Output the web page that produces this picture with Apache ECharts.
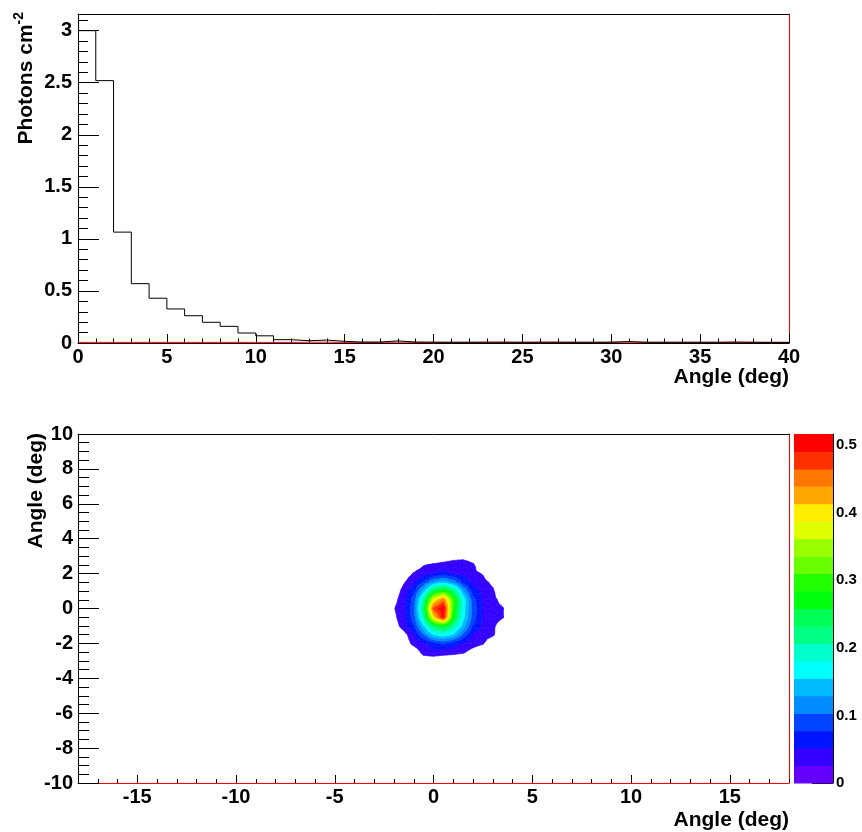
<!DOCTYPE html>
<html><head><meta charset="utf-8">
<script src="https://cdn.jsdelivr.net/npm/echarts@6/dist/echarts.min.js"></script>
<style>html,body{margin:0;padding:0;background:#fff}#c{width:862px;height:832px}</style>
</head><body><div id="c"></div>
<script>
// ---------- Top panel: 1D histogram (bin width 1 deg, 0..40) ----------
const histValues = [3.00, 2.52, 1.065, 0.57, 0.43, 0.327, 0.262, 0.199, 0.16, 0.096,
  0.069, 0.032, 0.022, 0.028, 0.016, 0.009, 0.009, 0.02, 0.009, 0.008,
  0.007, 0.007, 0.008, 0.007, 0.007, 0.008, 0.007, 0.007, 0.007, 0.008,
  0.014, 0.007, 0.007, 0.007, 0.007, 0.007, 0.008, 0.007, 0.006, 0.006];
const redValues = [0.006, 0.006, 0.006, 0.006, 0.006, 0.006, 0.006, 0.006, 0.006, 0.006,
  0.006, 0.006, 0.008, 0.008, 0.006, 0.006, 0.006, 0.008, 0.006, 0.006,
  0.006, 0.006, 0.006, 0.008, 0.006, 0.006, 0.008, 0.006, 0.006, 0.006,
  0.008, 0.006, 0.006, 0.006, 0.006, 0.006, 0.008, 0.006, 0.006, 0.006];
const topXMin = 0, topXMax = 40, topYMax = 3.16;
const topXTicks = [0, 5, 10, 15, 20, 25, 30, 35, 40];
const topYTicks = [0, 0.5, 1, 1.5, 2, 2.5, 3];

// ---------- Bottom panel: 2D map sampled every 0.5 deg, contour levels ----------
const mapXNodes = [-2.5, -2, -1.5, -1, -0.5, 0, 0.5, 1, 1.5, 2, 2.5, 3, 3.5, 4];
const mapYNodes = [-3.5, -3, -2.5, -2, -1.5, -1, -0.5, 0, 0.5, 1, 1.5, 2, 2.5, 3, 3.5];
const rowYm35 = [0, 0,    0,    0,    0,    0,    0,    0,    0,    0,    0,    0,    0,    0];
const rowYm30 = [0, 0,    0,    0,    .012, .010, .006, .005, .004, 0,    0,    0,    0,    0];
const rowYm25 = [0, 0,    0,    .009, .034, .040, .037, .034, .029, .016, .005, 0,    0,    0];
const rowYm20 = [0, 0,    .010, .033, .046, .070, .082, .065, .046, .036, .028, .005, 0,    0];
const rowYm15 = [0, 0,    .015, .045, .105, .155, .172, .151, .097, .049, .036, .030, .005, 0];
const rowYm10 = [0, .012, .038, .076, .152, .235, .267, .210, .142, .076, .044, .031, .011, 0];
const rowYm05 = [0, .019, .044, .091, .200, .400, .500, .275, .165, .091, .047, .036, .028, 0];
const rowY00  = [0, .024, .045, .094, .230, .470, .516, .296, .170, .093, .048, .036, .028, 0];
const rowYp05 = [0, .016, .043, .089, .202, .384, .450, .306, .175, .087, .047, .034, .016, 0];
const rowYp10 = [0, .008, .035, .071, .143, .247, .289, .230, .132, .066, .041, .030, 0,    0];
const rowYp15 = [0, .005, .023, .044, .082, .128, .145, .120, .072, .045, .034, .020, 0,    0];
const rowYp20 = [0, 0,    .012, .028, .040, .050, .062, .049, .042, .033, .024, 0,    0,    0];
const rowYp25 = [0, 0,    0,    .009, .024, .030, .035, .040, .040, .030, 0,    0,    0,    0];
const rowYp30 = [0, 0,    0,    0,    0,    0,    .005, .012, .016, .008, 0,    0,    0,    0];
const rowYp35 = [0, 0,    0,    0,    0,    0,    0,    0,    0,    0,    0,    0,    0,    0];
const mapRows = [rowYm35, rowYm30, rowYm25, rowYm20, rowYm15, rowYm10, rowYm05, rowY00,
  rowYp05, rowYp10, rowYp15, rowYp20, rowYp25, rowYp30, rowYp35];
const mapXMin = -18, mapXMax = 18, mapYMin = -10, mapYMax = 10;
const mapXTicks = [-15, -10, -5, 0, 5, 10, 15];
const mapYTicks = [-10, -8, -6, -4, -2, 0, 2, 4, 6, 8, 10];
const zMax = 0.516, nLevels = 20;
const levelColors = ['#6300ff','#3300ff','#0014ff','#0044ff','#008bff','#00bbff','#00fffc','#00ffcc','#00ff85','#00ff55',
  '#00ff0e','#22ff00','#69ff00','#99ff00','#e0ff00','#ffee00','#ffa700','#ff7700','#ff3000','#ff0000'];
const zTicks = [0, 0.1, 0.2, 0.3, 0.4, 0.5];

// ---------- helpers ----------
const FONT = 'Liberation Sans, Arial, Helvetica, sans-serif';
function range(a, b, s) { const r = []; for (let v = a; v <= b + 1e-9; v += s) r.push(Math.round(v * 1000) / 1000); return r; }
const levelStep = zMax / nLevels;

function clipPoly(pts, lev, keepAbove) {
  const out = [];
  for (let i = 0; i < pts.length; i++) {
    const a = pts[i], b = pts[(i + 1) % pts.length];
    const ina = keepAbove ? a[2] >= lev : a[2] <= lev;
    const inb = keepAbove ? b[2] >= lev : b[2] <= lev;
    if (ina) out.push(a);
    if (ina !== inb) {
      const t = (lev - a[2]) / (b[2] - a[2]);
      out.push([a[0] + t * (b[0] - a[0]), a[1] + t * (b[1] - a[1]), lev]);
    }
  }
  return out;
}

function renderCell(params, api) {
  const x0 = api.value(0), y0 = api.value(1), x1 = api.value(2), y1 = api.value(3);
  const v = [api.value(4), api.value(5), api.value(6), api.value(7)];
  const c = [api.coord([x0, y0]), api.coord([x1, y0]), api.coord([x1, y1]), api.coord([x0, y1])];
  const P = c.map((p, i) => [p[0], p[1], v[i]]);
  const ctr = [(P[0][0] + P[2][0]) / 2, (P[0][1] + P[2][1]) / 2, (v[0] + v[1] + v[2] + v[3]) / 4];
  const children = [];
  for (let t = 0; t < 4; t++) {
    const tri = [P[t], P[(t + 1) % 4], ctr];
    const vs = tri.map(p => p[2]);
    const vmin = Math.min.apply(null, vs), vmax = Math.max.apply(null, vs);
    const kMin = Math.max(1, Math.floor(vmin / levelStep));
    const kMax = Math.min(nLevels - 1, Math.floor(vmax / levelStep));
    for (let k = kMin; k <= kMax; k++) {
      let poly = clipPoly(tri, k * levelStep, true);
      if (k < nLevels - 1 && poly.length) poly = clipPoly(poly, (k + 1) * levelStep, false);
      if (poly.length >= 3) {
        children.push({ type: 'polygon', silent: true,
          shape: { points: poly.map(p => [p[0], p[1]]) },
          style: { fill: levelColors[k], stroke: levelColors[k], lineWidth: 0.6 } });
      }
    }
  }
  return { type: 'group', children: children };
}

// build data
const histData = histValues.map((v, i) => [topXMin + i, v]);
histData.push([topXMax, histValues[histValues.length - 1]]);
const redData = redValues.map((v, i) => [topXMin + i, v]);
redData.push([topXMax, redValues[redValues.length - 1]]);

const cellData = [];
for (let j = 0; j < mapYNodes.length - 1; j++) {
  for (let i = 0; i < mapXNodes.length - 1; i++) {
    const a = mapRows[j][i], b = mapRows[j][i + 1], cc = mapRows[j + 1][i + 1], d = mapRows[j + 1][i];
    if (Math.max(a, b, cc, d) < levelStep) continue;
    cellData.push([mapXNodes[i], mapYNodes[j], mapXNodes[i + 1], mapYNodes[j + 1], a, b, cc, d]);
  }
}
const barData = levelColors.map((col, k) => [k * levelStep, (k + 1) * levelStep, k]);

const lblStyle = (size, margin) => ({ fontFamily: FONT, fontWeight: 'bold', fontSize: size, color: '#000', margin: margin });
function tickAxis(o) {
  const a = Object.assign({ type: 'value', splitLine: { show: false } }, o);
  a.axisLine = Object.assign({ onZero: false }, a.axisLine || {});
  return a;
}
const noLbl = { show: false };

const chart = echarts.init(document.getElementById('c'), null, { renderer: 'canvas' });
chart.setOption({
  animation: false,
  backgroundColor: '#fff',
  grid: [
    { left: 78, top: 14, width: 711, height: 329 },
    { left: 78, top: 434, width: 711, height: 349 },
    { left: 794, top: 434, width: 39, height: 349 }
  ],
  xAxis: [
    // top panel
    tickAxis({ gridIndex: 0, position: 'bottom', min: topXMin, max: topXMax,
      axisLine: { lineStyle: { color: '#000', width: 1 } },
      axisTick: { inside: true, length: 9, customValues: topXTicks, lineStyle: { color: '#000' } },
      axisLabel: Object.assign({ customValues: topXTicks }, lblStyle(20, 4)) }),
    tickAxis({ gridIndex: 0, position: 'bottom', min: topXMin, max: topXMax,
      axisLine: { show: false },
      axisTick: { inside: true, length: 4.5, customValues: range(0, 40, 1), lineStyle: { color: '#000' } },
      axisLabel: noLbl }),
    tickAxis({ gridIndex: 0, position: 'top', min: topXMin, max: topXMax,
      axisLine: { lineStyle: { color: '#000' } }, axisTick: { show: false }, axisLabel: noLbl }),
    // bottom panel
    tickAxis({ gridIndex: 1, position: 'bottom', min: mapXMin, max: mapXMax,
      axisLine: { lineStyle: { color: '#ff0000', width: 1 } },
      axisTick: { inside: true, length: 8, customValues: mapXTicks, lineStyle: { color: '#000' } },
      axisLabel: Object.assign({ customValues: mapXTicks }, lblStyle(20, 4)) }),
    tickAxis({ gridIndex: 1, position: 'bottom', min: mapXMin, max: mapXMax,
      axisLine: { show: false },
      axisTick: { inside: true, length: 4, customValues: range(-18, 18, 1), lineStyle: { color: '#000' } },
      axisLabel: noLbl }),
    tickAxis({ gridIndex: 1, position: 'top', min: mapXMin, max: mapXMax,
      axisLine: { lineStyle: { color: '#000' } }, axisTick: { show: false }, axisLabel: noLbl }),
    // colour bar
    tickAxis({ gridIndex: 2, min: 0, max: 1, show: false })
  ],
  yAxis: [
    tickAxis({ gridIndex: 0, position: 'left', min: 0, max: topYMax,
      axisLine: { lineStyle: { color: '#000' } },
      axisTick: { inside: true, length: 21, customValues: topYTicks, lineStyle: { color: '#000' } },
      axisLabel: Object.assign({ customValues: topYTicks }, lblStyle(20, 6)) }),
    tickAxis({ gridIndex: 0, position: 'left', min: 0, max: topYMax,
      axisLine: { show: false },
      axisTick: { inside: true, length: 10, customValues: range(0, 3.1, 0.1), lineStyle: { color: '#000' } },
      axisLabel: noLbl }),
    tickAxis({ gridIndex: 0, position: 'right', min: 0, max: topYMax,
      axisLine: { lineStyle: { color: '#ff0000' } }, axisTick: { show: false }, axisLabel: noLbl }),
    tickAxis({ gridIndex: 1, position: 'left', min: mapYMin, max: mapYMax,
      axisLine: { lineStyle: { color: '#000' } },
      axisTick: { inside: true, length: 21, customValues: mapYTicks, lineStyle: { color: '#000' } },
      axisLabel: Object.assign({ customValues: mapYTicks }, lblStyle(20, 5)) }),
    tickAxis({ gridIndex: 1, position: 'left', min: mapYMin, max: mapYMax,
      axisLine: { show: false },
      axisTick: { inside: true, length: 11, customValues: range(-10, 10, 0.5), lineStyle: { color: '#000' } },
      axisLabel: noLbl }),
    tickAxis({ gridIndex: 1, position: 'right', min: mapYMin, max: mapYMax,
      axisLine: { lineStyle: { color: '#ff0000' } }, axisTick: { show: false }, axisLabel: noLbl }),
    tickAxis({ gridIndex: 2, position: 'right', min: 0, max: zMax,
      axisLine: { lineStyle: { color: '#000' } },
      axisTick: { inside: true, length: 21, customValues: zTicks, lineStyle: { color: '#000' } },
      axisLabel: Object.assign({ customValues: zTicks }, lblStyle(15, 3)) })
  ],
  series: [
    { type: 'line', xAxisIndex: 0, yAxisIndex: 0, step: 'end', data: redData, symbol: 'none',
      lineStyle: { color: '#ff0000', width: 1 }, z: 3 },
    { type: 'line', xAxisIndex: 0, yAxisIndex: 0, step: 'end', data: histData, symbol: 'none',
      lineStyle: { color: '#000', width: 1 }, z: 4 },
    { type: 'custom', xAxisIndex: 3, yAxisIndex: 3, renderItem: renderCell, data: cellData,
      encode: { x: [0, 2], y: [1, 3] }, clip: true, silent: true },
    { type: 'custom', xAxisIndex: 6, yAxisIndex: 6, data: barData, silent: true,
      encode: { y: [0, 1] },
      renderItem: function (params, api) {
        const p0 = api.coord([0, api.value(0)]), p1 = api.coord([1, api.value(1)]);
        return { type: 'rect', shape: { x: p0[0], y: p1[1], width: p1[0] - p0[0], height: p0[1] - p1[1] + 0.5 },
          style: { fill: levelColors[api.value(2)] } };
      }, z: 1 }
  ],
  graphic: [
    { type: 'text', x: 789, y: 377, silent: true,
      style: { text: 'Angle (deg)', align: 'right', verticalAlign: 'middle', font: 'bold 21px ' + FONT, fill: '#000' } },
    { type: 'text', x: 789, y: 820, silent: true,
      style: { text: 'Angle (deg)', align: 'right', verticalAlign: 'middle', font: 'bold 21px ' + FONT, fill: '#000' } },
    { type: 'text', x: 36, y: 433, rotation: Math.PI / 2, silent: true,
      style: { text: 'Angle (deg)', align: 'right', verticalAlign: 'middle', font: 'bold 21px ' + FONT, fill: '#000' } },
    { type: 'text', x: 26, y: 12, rotation: Math.PI / 2, silent: true,
      style: { text: '{m|Photons cm}{s|-2}', align: 'right', verticalAlign: 'middle',
        rich: { m: { font: 'bold 21px ' + FONT, fill: '#000', lineHeight: 28 },
                s: { font: 'bold 14px ' + FONT, fill: '#000', verticalAlign: 'top' } } } }
  ]
});
</script></body></html>
